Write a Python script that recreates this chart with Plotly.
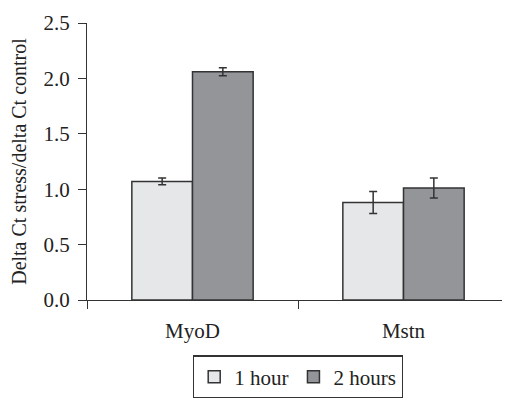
import plotly.graph_objects as go

categories = ["MyoD", "Mstn"]
series_names = ["1 hour", "2 hours"]
hour1_values = [1.07, 0.88]
hour1_errors = [0.03, 0.10]
hour2_values = [2.06, 1.01]
hour2_errors = [0.035, 0.09]
y_ticks = [0.0, 0.5, 1.0, 1.5, 2.0, 2.5]

fig = go.Figure()
fig.add_trace(go.Bar(
    x=categories, y=hour1_values, name=series_names[0],
    marker=dict(color="#e6e7e9", line=dict(color="#333333", width=1.5)),
    error_y=dict(type="data", array=hour1_errors, color="#333333", thickness=1.5, width=4),
))
fig.add_trace(go.Bar(
    x=categories, y=hour2_values, name=series_names[1],
    marker=dict(color="#939598", line=dict(color="#333333", width=1.5)),
    error_y=dict(type="data", array=hour2_errors, color="#333333", thickness=1.5, width=4),
))

fig.update_layout(
    width=502, height=391,
    margin=dict(l=79, r=1, t=15, b=94),
    paper_bgcolor="white", plot_bgcolor="white",
    barmode="group", bargap=0.425, bargroupgap=0,
    font=dict(family="Liberation Serif", size=21, color="#222222"),
    showlegend=True,
    legend=dict(
        orientation="h", x=0.5, xanchor="center", y=-0.2, yanchor="top",
        bordercolor="#333333", borderwidth=1.2, font=dict(size=21),
        itemwidth=30, traceorder="normal",
    ),
    xaxis=dict(
        range=[-0.5, 1.5], showline=True, linecolor="#333333", linewidth=1.2,
        ticks="outside", tickson="boundaries", ticklen=8, tickcolor="#333333",
        showgrid=False, zeroline=False, ticklabelstandoff=12,
    ),
    yaxis=dict(
        range=[0, 2.5], tickvals=y_ticks, tickformat=".1f",
        showline=True, linecolor="#333333", linewidth=1.2,
        ticks="outside", ticklen=8, tickcolor="#333333",
        showgrid=False, zeroline=False, ticklabelstandoff=4,
        title=dict(text="Delta Ct stress/delta Ct control", font=dict(size=20), standoff=11),
    ),
)

fig.write_html("out.html")
